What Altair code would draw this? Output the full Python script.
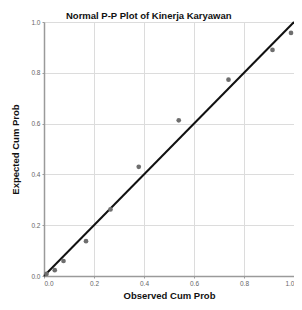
import altair as alt
import pandas as pd

observed = [0.01, 0.043, 0.078, 0.168, 0.266, 0.379, 0.539, 0.738, 0.914, 0.988]
expected = [0.008, 0.023, 0.059, 0.137, 0.262, 0.43, 0.613, 0.773, 0.89, 0.957]
line_x = [0.0, 1.0]
line_y = [0.0, 1.0]
ticks = [0.0, 0.2, 0.4, 0.6, 0.8, 1.0]

pts = pd.DataFrame({"obs": observed, "exp": expected})
ref = pd.DataFrame({"obs": line_x, "exp": line_y})

xs = alt.Scale(domain=[0, 1], nice=False, zero=False)
ys = alt.Scale(domain=[0, 1], nice=False, zero=False)

xaxis = alt.Axis(values=ticks, format=".1f", title="Observed Cum Prob", grid=True,
                 gridColor="#dcdcdc", domainColor="#9a9a9a", domainWidth=1.5,
                 tickColor="#9a9a9a", tickSize=2, labelFontSize=6.5, labelColor="#666666",
                 labelFont="Liberation Sans", titleFont="Liberation Sans", titleFontSize=9.5,
                 titleFontWeight="bold", titleColor="#111111", titlePadding=4, labelPadding=2)
yaxis = alt.Axis(values=ticks, format=".1f", title="Expected Cum Prob", grid=True,
                 gridColor="#dcdcdc", domainColor="#9a9a9a", domainWidth=1.5,
                 tickColor="#9a9a9a", tickSize=2, labelFontSize=6.5, labelColor="#666666",
                 labelFont="Liberation Sans", titleFont="Liberation Sans", titleFontSize=9.5,
                 titleFontWeight="bold", titleColor="#111111", titlePadding=10, labelPadding=2)

points = alt.Chart(pts).mark_circle(size=22, color="#6e6e6e", opacity=1).encode(
    x=alt.X("obs:Q", scale=xs, axis=xaxis),
    y=alt.Y("exp:Q", scale=ys, axis=yaxis),
)
line = alt.Chart(ref).mark_line(color="#111111", strokeWidth=2).encode(
    x=alt.X("obs:Q", scale=xs),
    y=alt.Y("exp:Q", scale=ys),
)

chart = alt.layer(line, points).properties(
    width=250, height=254,
    autosize=alt.AutoSizeParams(type="none"),
    padding={"left": 36, "top": 14, "right": 0, "bottom": 26},
    title=alt.TitleParams("Normal P-P Plot of Kinerja Karyawan", anchor="start", frame="group",
                          dx=22, dy=2, font="Liberation Sans", fontSize=9.5, fontWeight="bold",
                          color="#111111", offset=0),
).configure_view(stroke=None)

chart.save("out.html", embed_options={"renderer": "svg", "actions": False})
